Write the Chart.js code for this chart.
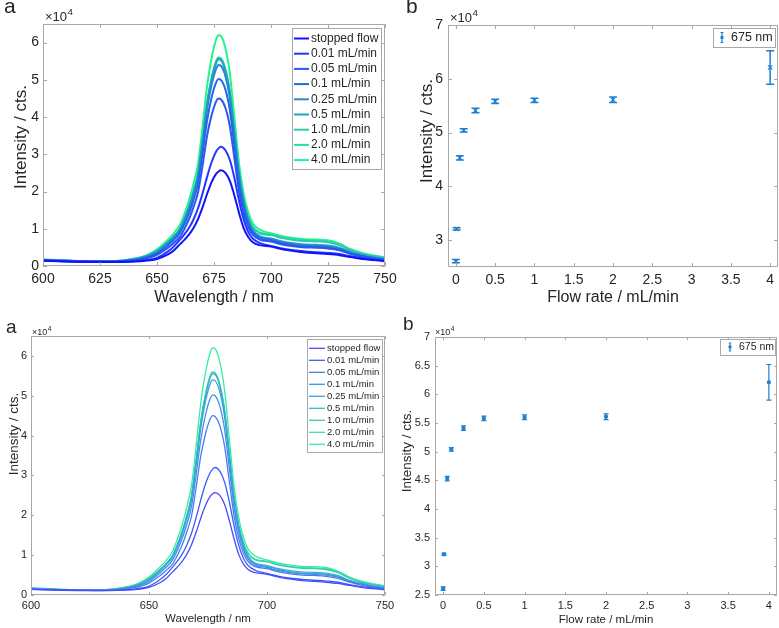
<!DOCTYPE html>
<html>
<head>
<script src="https://cdn.jsdelivr.net/npm/chart.js@4.4.0/dist/chart.umd.min.js"></script>
<style>
  body { margin: 0; background: #fff; width: 779px; height: 628px; position: relative; overflow: hidden; }
  canvas { position: absolute; }
</style>
</head>
<body>
<canvas id="specTop" width="400" height="310" style="left:0;top:0"></canvas>
<canvas id="flowTop" width="379" height="310" style="left:400px;top:0"></canvas>
<canvas id="specBottom" width="400" height="318" style="left:0;top:310px"></canvas>
<canvas id="flowBottom" width="379" height="318" style="left:400px;top:310px"></canvas>
<script>
// wavelength grid (nm) and spectra, intensity in units of 10^4 cts
var wavelengths = [600,610,620,630,640,645,650,655,657,660,662,664,666,668,670,672,674,676,677,678,680,682,684,686,688,690,692,695,700,705,710,715,720,725,730,735,740,745,750];
var flowLabels = ["stopped flow","0.01 mL/min","0.05 mL/min","0.1 mL/min","0.25 mL/min","0.5 mL/min","1.0 mL/min","2.0 mL/min","4.0 mL/min"];
var specStopped = [0.14,0.12,0.11,0.11,0.12,0.14,0.19,0.32,0.40,0.58,0.70,0.84,1.02,1.26,1.58,1.94,2.26,2.48,2.54,2.57,2.50,2.28,1.88,1.42,1.02,0.78,0.64,0.56,0.52,0.45,0.40,0.36,0.34,0.32,0.29,0.24,0.19,0.16,0.13];
var spec001 = [0.14,0.13,0.12,0.11,0.13,0.16,0.22,0.40,0.50,0.70,0.85,1.02,1.25,1.55,1.95,2.40,2.80,3.08,3.16,3.20,3.11,2.84,2.35,1.75,1.25,0.92,0.74,0.62,0.54,0.47,0.42,0.39,0.37,0.35,0.32,0.26,0.21,0.17,0.14];
var spec005 = [0.15,0.13,0.12,0.12,0.15,0.20,0.30,0.50,0.60,0.78,0.99,1.25,1.58,1.98,2.71,3.51,4.06,4.43,4.50,4.48,4.25,3.74,2.87,2.00,1.42,1.05,0.84,0.71,0.66,0.58,0.53,0.50,0.49,0.47,0.42,0.32,0.25,0.20,0.16];
var spec01 = [0.16,0.14,0.12,0.12,0.16,0.22,0.34,0.57,0.68,0.88,1.12,1.41,1.77,2.22,3.03,3.92,4.54,4.94,5.02,5.00,4.74,4.17,3.20,2.22,1.57,1.15,0.90,0.75,0.69,0.61,0.56,0.53,0.52,0.50,0.45,0.34,0.27,0.21,0.17];
var spec025 = [0.16,0.14,0.12,0.12,0.17,0.24,0.37,0.62,0.74,0.95,1.21,1.52,1.91,2.39,3.27,4.22,4.88,5.31,5.40,5.38,5.10,4.48,3.44,2.39,1.68,1.22,0.95,0.78,0.72,0.64,0.58,0.55,0.54,0.52,0.47,0.36,0.28,0.22,0.18];
var spec05 = [0.16,0.14,0.12,0.12,0.18,0.25,0.39,0.64,0.76,0.98,1.25,1.57,1.97,2.46,3.36,4.34,5.01,5.46,5.55,5.53,5.24,4.61,3.54,2.46,1.72,1.25,0.97,0.80,0.74,0.66,0.61,0.58,0.57,0.55,0.49,0.37,0.29,0.23,0.19];
var spec10 = [0.17,0.14,0.13,0.13,0.19,0.26,0.41,0.65,0.77,0.99,1.26,1.58,1.99,2.48,3.39,4.38,5.06,5.51,5.60,5.58,5.28,4.65,3.57,2.48,1.76,1.31,1.04,0.88,0.83,0.75,0.70,0.67,0.66,0.64,0.56,0.42,0.32,0.26,0.21];
var spec20 = [0.17,0.14,0.13,0.13,0.19,0.27,0.42,0.66,0.77,0.99,1.26,1.58,1.98,2.48,3.38,4.37,5.04,5.49,5.58,5.56,5.27,4.64,3.56,2.48,1.76,1.31,1.05,0.90,0.85,0.77,0.72,0.69,0.68,0.66,0.58,0.43,0.33,0.27,0.22];
var spec40 = [0.18,0.15,0.13,0.13,0.20,0.28,0.45,0.72,0.85,1.10,1.40,1.75,2.20,2.75,3.75,4.85,5.60,6.10,6.20,6.18,5.85,5.15,3.95,2.75,1.95,1.45,1.15,0.98,0.88,0.80,0.75,0.72,0.71,0.69,0.60,0.45,0.35,0.28,0.23];
var spectra = [specStopped, spec001, spec005, spec01, spec025, spec05, spec10, spec20, spec40];

// peak intensity at 675 nm vs flow rate (10^4 cts)
var flowRates = [0, 0.01, 0.05, 0.1, 0.25, 0.5, 1, 2, 4];
var peakIntensity = [2.61, 3.21, 4.53, 5.04, 5.41, 5.58, 5.60, 5.61, 6.21];
var peakError = [0.03, 0.02, 0.04, 0.03, 0.04, 0.04, 0.04, 0.05, 0.31];

// tick labels
var specXTicksTop = [600,625,650,675,700,725,750];
var specXTicksBottom = [600,650,700,750];
var specYTicks = [0,1,2,3,4,5,6];
var flowXTicks = [0,0.5,1,1.5,2,2.5,3,3.5,4];
var flowYTicksTop = [3,4,5,6,7];
var flowYTicksBottom = [2.5,3,3.5,4,4.5,5,5.5,6,6.5,7];

var colorsTop = ['#1212ff','#2238ff','#2a56f2','#2068e8','#2a88d2','#22a2c2','#2ccaae','#22e2a0','#22f58c'];
var colorsBottom = ['#4a4aff','#3a5cf5','#4a7cf0','#4090e8','#3aa0e0','#3ab4c8','#3acaa8','#40e0b0','#30f0a0'];
var errColor = '#1e80d2';
var FONT = "'Liberation Sans', Arial, sans-serif";
var TXT = '#262626';

function text(ctx, s, x, y, size, align, base, rot) {
  ctx.save();
  ctx.font = size + 'px ' + FONT;
  ctx.fillStyle = TXT;
  ctx.textAlign = align || 'left';
  ctx.textBaseline = base || 'alphabetic';
  ctx.translate(x, y);
  if (rot) ctx.rotate(rot);
  ctx.fillText(s, 0, 0);
  ctx.restore();
}

// box, inward ticks, panel letter, exponent, axis titles, legend
var frame = {
  id: 'frame',
  afterDraw: function(chart, args, o) {
    var ctx = chart.ctx, a = chart.chartArea, sx = chart.scales.x, sy = chart.scales.y;
    ctx.save();
    ctx.strokeStyle = '#a8a8a8';
    ctx.lineWidth = 1;
    ctx.beginPath();
    ctx.rect(Math.round(a.left) + 0.5, Math.round(a.top) + 0.5, Math.round(a.right - a.left) - 1, Math.round(a.bottom - a.top) - 1);
    sx.ticks.forEach(function(t, i) {
      var p = Math.round(sx.getPixelForTick(i)) + 0.5;
      ctx.moveTo(p, a.bottom); ctx.lineTo(p, a.bottom - o.tick);
      ctx.moveTo(p, a.top); ctx.lineTo(p, a.top + o.tick);
    });
    sy.ticks.forEach(function(t, i) {
      var p = Math.round(sy.getPixelForTick(i)) + 0.5;
      ctx.moveTo(a.left, p); ctx.lineTo(a.left + o.tick, p);
      ctx.moveTo(a.right, p); ctx.lineTo(a.right - o.tick, p);
    });
    ctx.stroke();
    ctx.restore();

    text(ctx, o.letter, o.letterX, o.letterY, o.letterSize);
    text(ctx, '\u00d710', o.expX, o.expY, o.expSize);
    ctx.save(); ctx.font = o.expSize + 'px ' + FONT;
    var w = ctx.measureText('\u00d710').width; ctx.restore();
    text(ctx, '4', o.expX + w + 0.5, o.expY - o.expSize * 0.45, o.expSize * 0.75);
    text(ctx, o.xTitle, (a.left + a.right) / 2, o.xTitleY, o.titleSize, 'center', 'middle');
    text(ctx, o.yTitle, o.yTitleX, o.yTitleY, o.yTitleSize, 'center', 'middle', -Math.PI / 2);

    var L = o.legend;
    ctx.save();
    ctx.fillStyle = '#fff';
    ctx.strokeStyle = '#a8a8a8';
    ctx.lineWidth = 1;
    ctx.fillRect(L.x, L.y, L.w, L.h);
    ctx.strokeRect(L.x + 0.5, L.y + 0.5, L.w, L.h);
    ctx.restore();
    if (L.kind === 'lines') {
      chart.data.datasets.forEach(function(ds, i) {
        var yy = L.row0 + i * L.rowH;
        ctx.save();
        ctx.strokeStyle = ds.borderColor; ctx.lineWidth = ds.borderWidth;
        ctx.beginPath(); ctx.moveTo(L.lineX0, yy); ctx.lineTo(L.lineX1, yy); ctx.stroke();
        ctx.restore();
        text(ctx, ds.label, L.textX, yy, L.size, 'left', 'middle');
      });
    } else {
      var cx = L.iconX, cy = L.row0, hh = L.iconH, cw = L.capW;
      ctx.save();
      ctx.strokeStyle = errColor; ctx.fillStyle = errColor; ctx.lineWidth = 1.2;
      ctx.beginPath();
      ctx.moveTo(cx, cy - hh); ctx.lineTo(cx, cy + hh);
      ctx.moveTo(cx - cw, cy - hh); ctx.lineTo(cx + cw, cy - hh);
      ctx.moveTo(cx - cw, cy + hh); ctx.lineTo(cx + cw, cy + hh);
      ctx.stroke();
      ctx.fillRect(cx - 1.5, cy - 1.5, 3, 3);
      ctx.restore();
      text(ctx, '675 nm', L.textX, cy, L.size, 'left', 'middle');
    }
  }
};

// vertical error bars with caps, placed through the scales
var errorBars = {
  id: 'errorBars',
  afterDatasetsDraw: function(chart, args, o) {
    if (!o.on) return;
    var ctx = chart.ctx, sx = chart.scales.x, sy = chart.scales.y;
    ctx.save();
    ctx.strokeStyle = errColor;
    ctx.lineWidth = o.lw;
    ctx.beginPath();
    flowRates.forEach(function(f, i) {
      var x = sx.getPixelForValue(f);
      var y0 = sy.getPixelForValue(peakIntensity[i] - peakError[i]);
      var y1 = sy.getPixelForValue(peakIntensity[i] + peakError[i]);
      ctx.moveTo(x, y0); ctx.lineTo(x, y1);
      ctx.moveTo(x - o.cap, y0); ctx.lineTo(x + o.cap, y0);
      ctx.moveTo(x - o.cap, y1); ctx.lineTo(x + o.cap, y1);
    });
    ctx.stroke();
    ctx.restore();
  }
};

function axis(min, max, tickVals, fixed, horiz, size, pad) {
  return {
    type: 'linear', min: min, max: max,
    afterBuildTicks: function(s) { s.ticks = tickVals.map(function(v) { return { value: v }; }); },
    afterFit: function(s) {
      if (horiz) s.height = fixed; else s.width = fixed;
      s.paddingLeft = 0; s.paddingRight = 0; s.paddingTop = 0; s.paddingBottom = 0;
    },
    grid: { display: false, drawTicks: false },
    border: { display: false },
    ticks: { color: TXT, padding: pad, maxRotation: 0, font: { family: FONT, size: size },
             callback: function(v) { return String(v); } }
  };
}

function spectrumChart(id, c) {
  new Chart(document.getElementById(id), {
    type: 'line',
    data: {
      datasets: spectra.map(function(s, i) {
        return {
          label: flowLabels[i],
          data: wavelengths.map(function(w, j) { return { x: w, y: s[j] }; }),
          borderColor: c.colors[i], borderWidth: c.lw,
          pointRadius: 0, cubicInterpolationMode: 'monotone', fill: false
        };
      })
    },
    options: {
      responsive: false, animation: false, events: [],
      layout: { autoPadding: false, padding: { left: 0, right: c.padR, top: c.padT, bottom: 0 } },
      plugins: { legend: { display: false }, tooltip: { enabled: false }, frame: c.frame, errorBars: { on: false } },
      scales: {
        x: axis(600, 750, c.xTicks, c.xH, true, c.tickSize, c.xPad),
        y: axis(0, 6.5, specYTicks, c.yW, false, c.tickSize, c.yPad)
      }
    },
    plugins: [frame, errorBars]
  });
}

function flowChart(id, c) {
  new Chart(document.getElementById(id), {
    type: 'scatter',
    data: {
      datasets: [{
        label: '675 nm',
        data: flowRates.map(function(f, i) { return { x: f, y: peakIntensity[i] }; }),
        pointStyle: c.marker, pointRadius: c.radius, borderWidth: 1.3,
        borderColor: errColor, backgroundColor: errColor
      }]
    },
    options: {
      responsive: false, animation: false, events: [],
      layout: { autoPadding: false, padding: { left: 0, right: c.padR, top: c.padT, bottom: 0 } },
      plugins: { legend: { display: false }, tooltip: { enabled: false }, frame: c.frame,
                 errorBars: { on: true, lw: c.errLw, cap: c.cap } },
      scales: {
        x: axis(-0.1, 4.1, flowXTicks, c.xH, true, c.tickSize, c.xPad),
        y: axis(2.5, 7, c.yTicks, c.yW, false, c.tickSize, c.yPad)
      }
    },
    plugins: [frame, errorBars]
  });
}

spectrumChart('specTop', {
  colors: colorsTop, lw: 2, padR: 15, padT: 24, xH: 44, yW: 43, tickSize: 14, xPad: 5, yPad: 4,
  xTicks: specXTicksTop,
  frame: { tick: 4, letter: 'a', letterX: 4, letterY: 13, letterSize: 21, expX: 45, expY: 21, expSize: 13,
           xTitle: 'Wavelength / nm', xTitleY: 298, titleSize: 16,
           yTitle: 'Intensity / cts.', yTitleX: 21, yTitleY: 137, yTitleSize: 17,
           legend: { kind: 'lines', x: 292, y: 28, w: 89, h: 141, row0: 38.5, rowH: 15.2,
                     lineX0: 294, lineX1: 309, textX: 311, size: 12 } }
});

flowChart('flowTop', {
  marker: 'crossRot', radius: 3, errLw: 1.5, cap: 4, padR: 1, padT: 25, xH: 43, yW: 48,
  tickSize: 14, xPad: 5, yPad: 5, yTicks: flowYTicksTop,
  frame: { tick: 4, letter: 'b', letterX: 6, letterY: 13, letterSize: 21, expX: 50, expY: 22, expSize: 13,
           xTitle: 'Flow rate / mL/min', xTitleY: 298, titleSize: 16,
           yTitle: 'Intensity / cts.', yTitleX: 27, yTitleY: 131, yTitleSize: 17,
           legend: { kind: 'err', x: 313, y: 28, w: 62, h: 19, row0: 37.5, iconX: 322, iconH: 5, capW: 1.5,
                     textX: 331, size: 12.5 } }
});

spectrumChart('specBottom', {
  colors: colorsBottom, lw: 1.3, padR: 15, padT: 26, xH: 33, yW: 31, tickSize: 11, xPad: 4, yPad: 4,
  xTicks: specXTicksBottom,
  frame: { tick: 3, letter: 'a', letterX: 6, letterY: 23, letterSize: 19, expX: 32, expY: 25, expSize: 9,
           xTitle: 'Wavelength / nm', xTitleY: 309, titleSize: 11.5,
           yTitle: 'Intensity / cts.', yTitleX: 14, yTitleY: 124, yTitleSize: 13.5,
           legend: { kind: 'lines', x: 307, y: 29, w: 75, h: 113, row0: 38.3, rowH: 12,
                     lineX0: 309, lineX1: 325, textX: 327, size: 9.5 } }
});

flowChart('flowBottom', {
  marker: 'circle', radius: 1.5, errLw: 1.2, cap: 2.5, padR: 2, padT: 27, xH: 33, yW: 35,
  tickSize: 11, xPad: 4, yPad: 5, yTicks: flowYTicksBottom,
  frame: { tick: 3, letter: 'b', letterX: 3, letterY: 20, letterSize: 19, expX: 35, expY: 25, expSize: 9,
           xTitle: 'Flow rate / mL/min', xTitleY: 310, titleSize: 11.5,
           yTitle: 'Intensity / cts.', yTitleX: 7, yTitleY: 141, yTitleSize: 13.5,
           legend: { kind: 'err', x: 320, y: 29, w: 55, h: 16, row0: 37, iconX: 330, iconH: 4, capW: 1.2,
                     textX: 339, size: 10.5 } }
});
</script>
</body>
</html>
